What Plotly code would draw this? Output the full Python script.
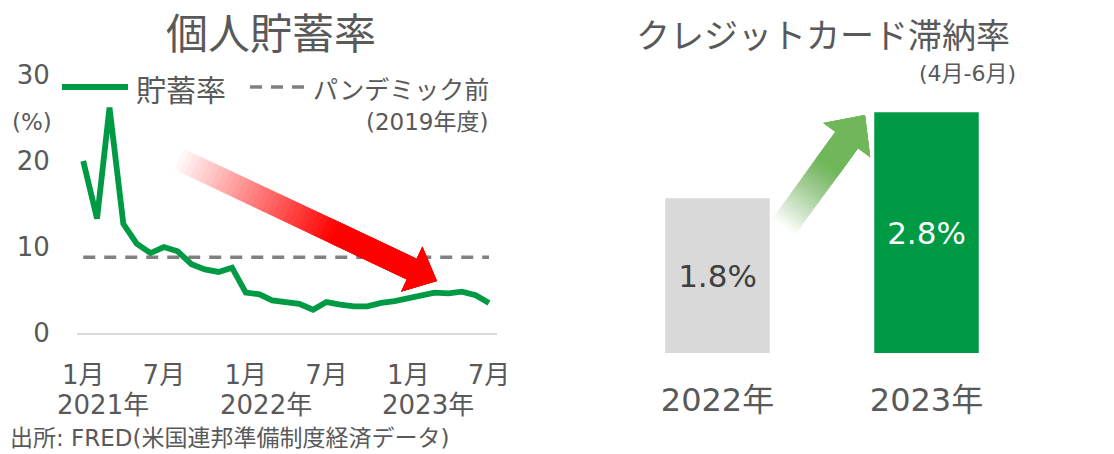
import plotly.graph_objects as go
import pandas as pd

W, H = 1114, 454
FONT = "DejaVu Sans, Noto Sans CJK JP"
CJK = "Noto Sans CJK JP"
GRAY = "#595959"

# ---------------- data ----------------
months = pd.date_range("2021-01-01", periods=31, freq="MS")
saving_rate = [20.0, 13.3, 26.2, 12.7, 10.4, 9.3, 10.0, 9.5, 8.0, 7.4, 7.1, 7.6,
               4.7, 4.5, 3.8, 3.6, 3.4, 2.7, 3.6, 3.3, 3.1, 3.1, 3.5, 3.7,
               4.0, 4.3, 4.7, 4.6, 4.8, 4.4, 3.5]
pre_pandemic = 8.8
tick_dates = ["2021-01-01", "2021-07-01", "2022-01-01", "2022-07-01", "2023-01-01", "2023-07-01"]
tick_text = ["1月", "7月", "1月", "7月", "1月", "7月"]
year_dates = ["2021-01-01", "2022-01-01", "2023-01-01"]
year_labels = ["2021年", "2022年", "2023年"]
ytick_vals = [0, 10, 20, 30]

card_years = ["2022年", "2023年"]
card_rates = [1.8, 2.8]
card_labels = ["1.8%", "2.8%"]
card_colors = ["#D9D9D9", "#009A44"]
card_text_colors = ["#404040", "#FFFFFF"]


def px(x):
    return x / W


def py(y):
    return 1 - y / H


fig = go.Figure()

# pre-pandemic dashed line
fig.add_trace(go.Scatter(
    x=[months[0], months[-1]], y=[pre_pandemic, pre_pandemic],
    mode="lines", line=dict(color="#808080", width=3.5, dash="12px,9px"),
    xaxis="x", yaxis="y", hoverinfo="skip", showlegend=False))

# saving rate line
fig.add_trace(go.Scatter(
    x=months, y=saving_rate, mode="lines",
    line=dict(color="#009A44", width=5.8),
    xaxis="x", yaxis="y", showlegend=False))

# credit card delinquency bars
fig.add_trace(go.Bar(
    x=card_years, y=card_rates, text=card_labels,
    marker=dict(color=card_colors, line=dict(width=0)),
    textposition="inside", insidetextanchor="middle",
    textfont=dict(family=FONT, size=31, color=card_text_colors),
    xaxis="x2", yaxis="y2", showlegend=False))


def gradient_arrow(tail, tip, shaft_hw, head_hw, head_len, rgb, a0, full_frac, n=45):
    tx, ty = tail
    qx, qy = tip
    dx, dy = qx - tx, qy - ty
    L = (dx * dx + dy * dy) ** 0.5
    ux, uy = dx / L, dy / L
    nx, ny = -uy, ux
    shaft_len = L - head_len

    def pt(s, w):
        x = tx + ux * s + nx * w
        y = ty + uy * s + ny * w
        return f"{px(x):.5f},{py(y):.5f}"

    shapes = []
    prev = 0.0
    for k in range(n):
        s = shaft_len * k / n
        f = s / L
        target = min(1.0, a0 + (1 - a0) * f / full_frac)
        if prev >= 0.9999:
            break
        a = target if k == 0 else 1 - (1 - target) / (1 - prev)
        prev = target
        if a <= 0:
            continue
        path = ("M " + pt(s, -shaft_hw) + " L " + pt(shaft_len, -shaft_hw) +
                " L " + pt(shaft_len, -head_hw) + " L " + pt(L, 0) +
                " L " + pt(shaft_len, head_hw) + " L " + pt(shaft_len, shaft_hw) +
                " L " + pt(s, shaft_hw) + " Z")
        shapes.append(dict(type="path", path=path, xref="paper", yref="paper",
                           fillcolor=f"rgba({rgb},{a:.4f})", line=dict(width=0),
                           layer="above"))
    return shapes


shapes = []
shapes += gradient_arrow((179, 159), (437, 281), 11.5, 25, 28, "255,0,0", 0.03, 0.6)
shapes += gradient_arrow((782, 229), (865, 115), 14, 29, 31, "112,183,90", 0.0, 0.55)

# manual legend lines
shapes.append(dict(type="line", xref="paper", yref="paper",
                   x0=px(62), x1=px(128), y0=py(87), y1=py(87),
                   line=dict(color="#009A44", width=6)))
shapes.append(dict(type="line", xref="paper", yref="paper",
                   x0=px(250), x1=px(306), y0=py(87), y1=py(87),
                   line=dict(color="#808080", width=3.5, dash="12px,9px")))

annotations = [
    dict(text="個人貯蓄率", x=px(271), y=py(31), size=42, fam=CJK),
    dict(text="クレジットカード滞納率", x=px(823), y=py(33), size=34, fam=CJK),
    dict(text="(4月-6月)", x=px(1018), y=py(73), xanchor="right", size=22),
    dict(text="(%)", x=px(32), y=py(122), size=23),
    dict(text="貯蓄率", x=px(134), y=py(88), xanchor="left", size=30, fam=CJK),
    dict(text="パンデミック前", x=px(491), y=py(88), xanchor="right", size=25, fam=CJK),
    dict(text="(2019年度)", x=px(490), y=py(122), xanchor="right", size=23),
    dict(text="出所: FRED(米国連邦準備制度経済データ)", x=px(8), y=py(438),
         xanchor="left", size=23),
]
ann_out = []
for a in annotations:
    ann_out.append(dict(
        text=a["text"], x=a["x"], y=a["y"], xref="paper", yref="paper",
        xanchor=a.get("xanchor", "center"), yanchor="middle", showarrow=False,
        font=dict(family=a.get("fam", FONT), color=GRAY, size=a["size"])))

for d, lab in zip(year_dates, year_labels):
    ann_out.append(dict(text=lab, x=d, y=py(405), xref="x", yref="paper",
                        xanchor="center", yanchor="middle", xshift=20,
                        showarrow=False,
                        font=dict(family=FONT, color=GRAY, size=26)))

fig.update_layout(
    width=W, height=H, autosize=False,
    margin=dict(l=0, r=0, t=0, b=0, pad=0, autoexpand=False),
    paper_bgcolor="white", plot_bgcolor="white",
    font=dict(family=FONT, color=GRAY),
    bargap=0.5,
    showlegend=False,
    hovermode=False,
    xaxis=dict(domain=[px(77), px(497)], anchor="y", type="date",
               range=["2020-12-18", "2023-07-19"],
               tickvals=tick_dates, ticktext=tick_text,
               tickfont=dict(size=26, color=GRAY, family=FONT),
               ticks="outside", ticklen=18, tickcolor="rgba(0,0,0,0)",
               showline=True, linecolor="#D9D9D9", linewidth=2,
               showgrid=False, zeroline=False, automargin=False),
    yaxis=dict(domain=[py(333), py(75)], anchor="x", range=[0, 30],
               tickvals=ytick_vals,
               tickfont=dict(size=26, color=GRAY, family=FONT),
               ticks="outside", ticklen=21, tickcolor="rgba(0,0,0,0)",
               showline=False, showgrid=False, zeroline=False, automargin=False),
    xaxis2=dict(domain=[px(613), px(1031)], anchor="y2", type="category",
                tickfont=dict(size=32, color=GRAY, family=FONT),
                ticks="outside", ticklen=19, tickcolor="rgba(0,0,0,0)",
                showline=False, showgrid=False, zeroline=False, automargin=False),
    yaxis2=dict(domain=[py(353), py(95)], anchor="x2", range=[0, 3],
                visible=False, showgrid=False, zeroline=False, automargin=False),
    shapes=shapes,
    annotations=ann_out,
)

fig.write_html("out.html",
               config={"displayModeBar": False, "staticPlot": True},
               post_script="document.body.style.margin='0';document.body.style.overflow='hidden';")
